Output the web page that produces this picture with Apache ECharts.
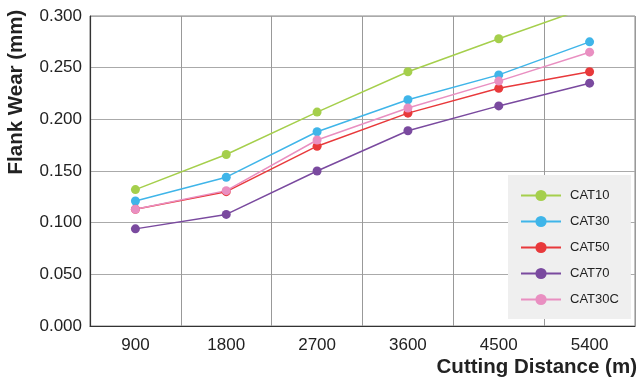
<!DOCTYPE html>
<html>
<head>
<meta charset="utf-8">
<script src="https://cdn.jsdelivr.net/npm/echarts@6/dist/echarts.min.js"></script>
<style>html,body{margin:0;padding:0;background:#fff;}#c{width:639px;height:381px;}</style>
</head>
<body>
<div id="c"></div>
<script>
var categories = ['900', '1800', '2700', '3600', '4500', '5400'];
var cat10  = [0.132, 0.166, 0.207, 0.246, 0.278, 0.309];
var cat30  = [0.121, 0.144, 0.188, 0.219, 0.243, 0.275];
var cat50  = [0.113, 0.130, 0.174, 0.206, 0.230, 0.246];
var cat70  = [0.094, 0.108, 0.150, 0.189, 0.213, 0.235];
var cat30c = [0.113, 0.131, 0.180, 0.211, 0.237, 0.265];
var seriesNames = ['CAT10', 'CAT30', 'CAT50', 'CAT70', 'CAT30C'];
var seriesData = [cat10, cat30, cat50, cat70, cat30c];
var colors = ['#a5cf4c', '#3fb5e9', '#e8393b', '#7a4a9f', '#e98fc1'];
var yTicks = [0, 0.05, 0.1, 0.15, 0.2, 0.25, 0.3];

var FONT = '"Liberation Sans", Arial, Helvetica, sans-serif';
var chart = echarts.init(document.getElementById('c'), null, {renderer: 'canvas'});
var series = seriesNames.map(function (n, i) {
  return {
    name: n, type: 'line', data: seriesData[i],
    symbol: 'circle', symbolSize: 9, clip: true,
    lineStyle: {color: colors[i], width: 1.5},
    itemStyle: {color: colors[i]},
    emphasis: {disabled: true},
    z: 3
  };
});
chart.setOption({
  animation: false,
  textStyle: {fontFamily: FONT},
  grid: {left: 90, right: 4, top: 16, bottom: 55, show: true, borderColor: '#888', borderWidth: 1, containLabel: false},
  legend: {
    orient: 'vertical', left: 508, top: 175,
    padding: [14, 12, 13, 12], itemGap: 13, itemWidth: 40, itemHeight: 14,
    backgroundColor: '#efefef',
    textStyle: {fontFamily: FONT, fontSize: 13, color: '#222', padding: [0, 0, 0, 4]},
    data: seriesNames
  },
  xAxis: {
    type: 'category', data: categories, boundaryGap: true,
    axisLine: {show: true, lineStyle: {color: '#333', width: 1.2}},
    axisTick: {show: false},
    axisLabel: {fontFamily: FONT, fontSize: 17, color: '#222', margin: 11},
    splitLine: {show: true, lineStyle: {color: '#999', width: 1}}
  },
  yAxis: {
    type: 'value', min: yTicks[0], max: yTicks[yTicks.length - 1], interval: 0.05,
    axisLine: {show: true, lineStyle: {color: '#333', width: 1.2}},
    axisTick: {show: false},
    axisLabel: {fontFamily: FONT, fontSize: 17, color: '#222', margin: 8,
      formatter: function (v) { return v.toFixed(3); }},
    splitLine: {show: true, lineStyle: {color: '#aaa', width: 1}}
  },
  graphic: [
    {type: 'text', x: 16, y: 92, rotation: Math.PI / 2,
     style: {text: 'Flank Wear (mm)', font: 'bold 20.5px ' + FONT, fill: '#222', textAlign: 'center', textVerticalAlign: 'middle'}},
    {type: 'text', x: 637, y: 367,
     style: {text: 'Cutting Distance (m)', font: 'bold 20.5px ' + FONT, fill: '#222', textAlign: 'right', textVerticalAlign: 'middle'}}
  ],
  series: series
});
</script>
</body>
</html>
